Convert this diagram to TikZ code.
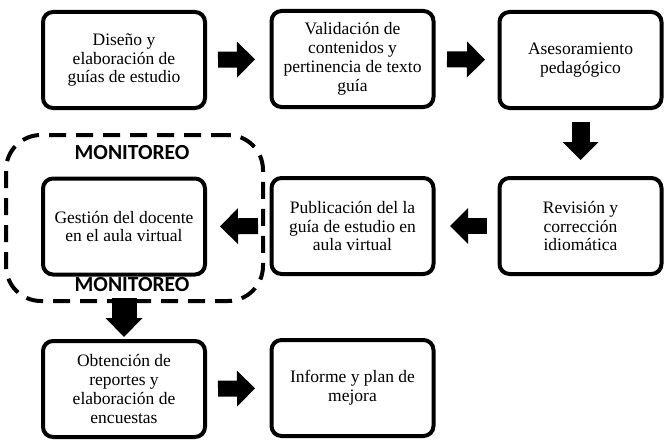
\documentclass[tikz,border=0pt]{standalone}
\usepackage{fontspec}
\setmainfont{Liberation Serif}
\newfontfamily\bodyfont{Liberation Serif}
\newfontfamily\monfont{Carlito}
\usetikzlibrary{arrows.meta}
\begin{document}
\begin{tikzpicture}[x=1pt,y=-1pt,
  box/.style={draw, line width=4pt, rounded corners=10pt, minimum width=162pt, minimum height=96pt,
    align=center, inner sep=2pt, font=\bodyfont\fontsize{17.5}{18.8}\selectfont},
  barrow/.style={line width=16pt, -{Triangle[length=18pt,width=36pt,line width=0pt]}},
  frame/.style={draw, line width=4pt, dash pattern=on 17pt off 10pt, rounded corners=35pt,
    minimum width=257pt, minimum height=166pt, inner sep=0pt},
  mon/.style={font=\monfont\bfseries\fontsize{21.5}{24}\selectfont, inner sep=0pt}]
\useasboundingbox (0,0) rectangle (669,444);

\node[box] (b1) at (124,60) {Diseño y\\elaboración de\\guías de estudio};
\node[box] (b2) at (352.5,59) {Validación de\\contenidos y\\pertinencia de texto\\guía};
\node[box] (b3) at (580.5,60) {Asesoramiento\\pedagógico};
\node[box] (b4) at (580.5,226) {Revisión y\\corrección\\idiomática};
\node[box] (b5) at (352.5,226) {Publicación del la\\guía de estudio en\\aula virtual};
\node[box] (b6) at (124,226.5) {Gestión del docente\\en el aula virtual};
\node[box] (b7) at (124,389) {Obtención de\\reportes y\\elaboración de\\encuestas};
\node[box] (b8) at (352.5,388) {Informe y plan de\\mejora};

\node[frame] (fr) at (134.5,218) {};
\node[mon] (m1) at (132,153) {MONITOREO};
\node[mon] (m2) at (132,285) {MONITOREO};

\draw[barrow, shorten <=11pt, shorten >=14.5pt] (b1) -- (b2);
\draw[barrow, shorten <=11.5pt, shorten >=12.5pt] (b2) -- (b3);
\draw[barrow, line width=18pt, shorten <=12pt, shorten >=16pt] (b3) -- (b4);
\draw[barrow, shorten <=10.5pt, shorten >=14.5pt] (b4) -- (b5);
\draw[barrow, shorten <=11.5pt, shorten >=13pt] (b5) -- (b6);
\draw[barrow, line width=25pt, -{Triangle[length=19pt,width=37pt,line width=0pt]}, shorten <=21.5pt, shorten >=2pt] (b6) -- (b7);
\draw[barrow, shorten <=11pt, shorten >=14.5pt] (b7) -- (b8);
\end{tikzpicture}
\end{document}
